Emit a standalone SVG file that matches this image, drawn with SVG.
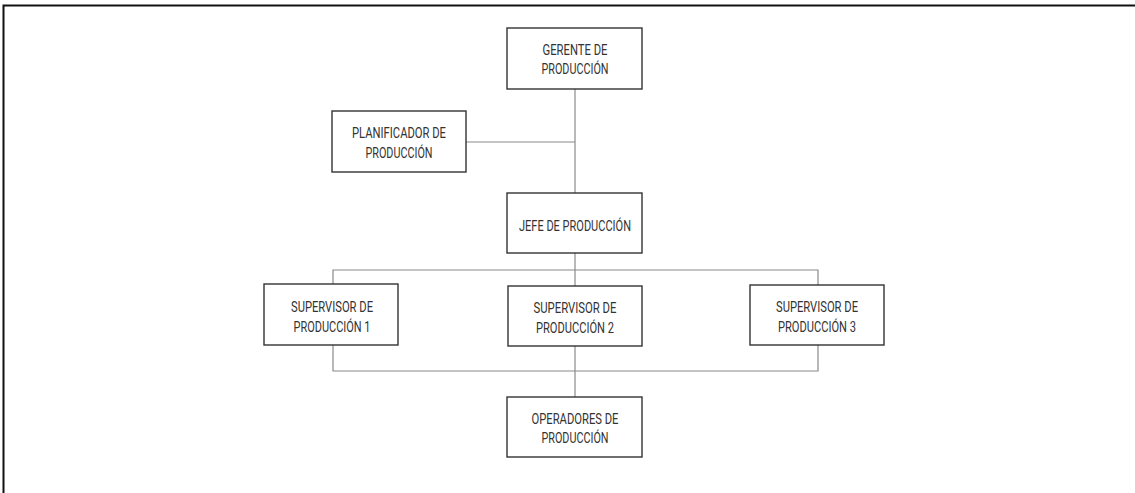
<svg xmlns="http://www.w3.org/2000/svg" width="1135" height="493" viewBox="0 0 1135 493">
  <style>
    .box { fill: #ffffff; stroke: #333333; stroke-width: 1.4; }
    .link { fill: none; stroke: #8a8a8a; stroke-width: 1.2; }
    .frame { fill: none; stroke: #111111; stroke-width: 2; }
    .lbl { font-family: Roboto, "Liberation Sans", sans-serif; font-size: 15px; fill: #333333; text-anchor: middle; }
  </style>
  <rect width="1135" height="493" fill="#ffffff"/>
  <!-- page frame -->
  <path class="frame" d="M3.5,493 V5.5 H1135"/>

  <g id="connectors">
    <path class="link" d="M575,89 V193"/>
    <path class="link" d="M466,142 H575"/>
    <path class="link" d="M575,253 V286"/>
    <path class="link" d="M333,284 V270 H818 V285"/>
    <path class="link" d="M333,345 V371 H818 V345"/>
    <path class="link" d="M575,345 V397"/>
  </g>

  <g id="gerente">
    <rect class="box" x="507" y="28" width="135" height="61"/>
    <text class="lbl" x="575" y="55" textLength="65" lengthAdjust="spacingAndGlyphs">GERENTE DE</text>
    <text class="lbl" x="575" y="74" textLength="67" lengthAdjust="spacingAndGlyphs">PRODUCCIÓN</text>
  </g>

  <g id="planificador">
    <rect class="box" x="332" y="111" width="134" height="61"/>
    <text class="lbl" x="399" y="138" textLength="94" lengthAdjust="spacingAndGlyphs">PLANIFICADOR DE</text>
    <text class="lbl" x="399" y="158" textLength="67" lengthAdjust="spacingAndGlyphs">PRODUCCIÓN</text>
  </g>

  <g id="jefe">
    <rect class="box" x="507" y="193" width="135" height="60"/>
    <text class="lbl" x="575" y="231" textLength="112" lengthAdjust="spacingAndGlyphs">JEFE DE PRODUCCIÓN</text>
  </g>

  <g id="supervisor1">
    <rect class="box" x="264" y="284" width="134" height="61"/>
    <text class="lbl" x="332" y="312" textLength="82" lengthAdjust="spacingAndGlyphs">SUPERVISOR DE</text>
    <text class="lbl" x="332" y="332" textLength="77" lengthAdjust="spacingAndGlyphs">PRODUCCIÓN 1</text>
  </g>

  <g id="supervisor2">
    <rect class="box" x="508" y="286" width="134" height="60"/>
    <text class="lbl" x="575" y="313" textLength="83" lengthAdjust="spacingAndGlyphs">SUPERVISOR DE</text>
    <text class="lbl" x="575" y="333" textLength="78" lengthAdjust="spacingAndGlyphs">PRODUCCIÓN 2</text>
  </g>

  <g id="supervisor3">
    <rect class="box" x="750" y="285" width="134" height="60"/>
    <text class="lbl" x="817" y="312" textLength="82" lengthAdjust="spacingAndGlyphs">SUPERVISOR DE</text>
    <text class="lbl" x="817" y="332" textLength="78" lengthAdjust="spacingAndGlyphs">PRODUCCIÓN 3</text>
  </g>

  <g id="operadores">
    <rect class="box" x="507" y="397" width="135" height="60"/>
    <text class="lbl" x="575" y="424" textLength="87" lengthAdjust="spacingAndGlyphs">OPERADORES DE</text>
    <text class="lbl" x="575" y="443" textLength="67" lengthAdjust="spacingAndGlyphs">PRODUCCIÓN</text>
  </g>
</svg>
